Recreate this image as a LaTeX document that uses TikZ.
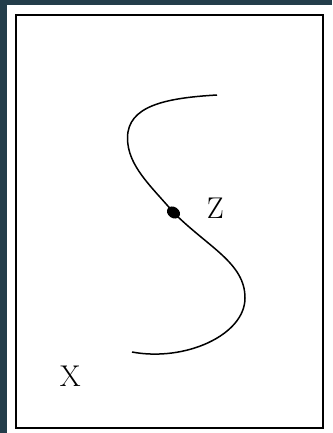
\documentclass[tikz,border=0pt]{standalone}
\usepackage{tikz}
\usetikzlibrary{positioning,shapes.geometric}

\definecolor{slate}{RGB}{35,61,74}
\tikzset{
  frame/.style={draw=black, line width=2pt},
  curve/.style={line width=1.5pt},
  point/.style={ellipse, fill=black, inner sep=0pt, minimum width=14pt, minimum height=11pt, rotate=-35},
  lbl/.style={inner sep=0pt, font=\fontsize{30}{30}\selectfont}
}

\begin{document}
\begin{tikzpicture}[x=1pt, y=-1pt]
  % Background and frame
  \useasboundingbox (0,0) rectangle (332,433);
  \fill[slate] (0,0) rectangle (332,433);
  \fill[white] (7,5) rectangle (332,433);
  \draw[frame] (16,15) rectangle (323.3,428.3);

  % Points on the curve
  \coordinate (top) at (217,95);
  \coordinate (lft) at (127.5,138);
  \coordinate (rgt) at (245,298);
  \coordinate (bot) at (132,352);
  \node[point] (dot) at (173.5,212.5) {};

  % Labels
  \node[lbl] (z) at (215.3,208.3) {Z};
  \node[lbl] (x) at (70.3,376.5) {X};

  % Curve
  \draw[curve] (top) .. controls +(-52,3) and +(0,-32) .. (lft)
    .. controls +(0,28) and +(-22,-26) .. (dot.center)
    .. controls +(35,35) and +(0,-35) .. (rgt)
    .. controls +(0,37) and +(53,10) .. (bot);
\end{tikzpicture}
\end{document}
